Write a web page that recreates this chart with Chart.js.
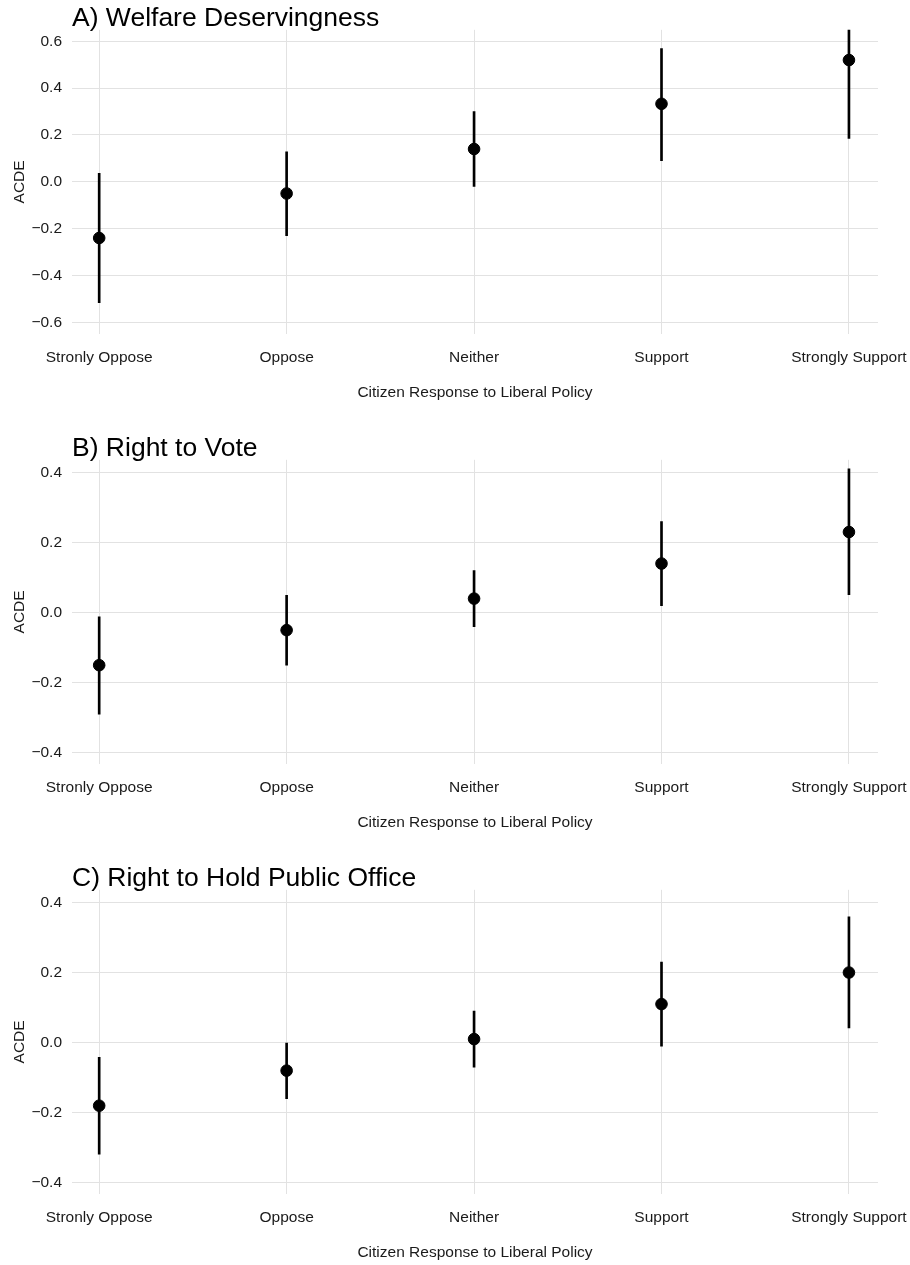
<!DOCTYPE html>
<html>
<head>
<meta charset="utf-8">
<script src="https://cdn.jsdelivr.net/npm/chart.js@4.4.1/dist/chart.umd.min.js"></script>
<style>
  html, body { margin: 0; padding: 0; background: #ffffff; overflow: hidden; }
  #wrap { position: relative; width: 910px; height: 1265px; overflow: hidden; }
  canvas { position: absolute; left: 0; }
</style>
</head>
<body>
<div id="wrap">
  <canvas id="cA" width="910" height="430" style="top:0px"></canvas>
  <canvas id="cB" width="910" height="430" style="top:430px"></canvas>
  <canvas id="cC" width="910" height="430" style="top:860px"></canvas>
</div>
<script>
// ---- data ----
const categories = ["Stronly Oppose", "Oppose", "Neither", "Support", "Strongly Support"];

const titleA = "A) Welfare Deservingness";
const estA  = [-0.24, -0.05, 0.14, 0.333, 0.52];
const lowA  = [-0.516, -0.23, -0.02, 0.09, 0.185];
const highA = [0.036, 0.128, 0.30, 0.569, 0.66];
const yTicksA = [-0.6, -0.4, -0.2, 0.0, 0.2, 0.4, 0.6];

const titleB = "B) Right to Vote";
const estB  = [-0.15, -0.05, 0.04, 0.14, 0.23];
const lowB  = [-0.29, -0.15, -0.04, 0.02, 0.051];
const highB = [-0.012, 0.049, 0.12, 0.26, 0.41];

const titleC = "C) Right to Hold Public Office";
const estC  = [-0.18, -0.08, 0.01, 0.11, 0.20];
const lowC  = [-0.318, -0.16, -0.07, -0.01, 0.042];
const highC = [-0.042, 0.0, 0.09, 0.23, 0.359];

const yTicksBC = [-0.4, -0.2, 0.0, 0.2, 0.4];

const xTitle = "Citizen Response to Liberal Policy";
const yTitle = "ACDE";

// ---- chart ----
const FONT = '"Liberation Sans", Arial, Helvetica, sans-serif';
const GRID = '#e2e2e2';
const TXT = '#1a1a1a';

function fmt(v) {
  const s = Math.abs(v).toFixed(1);
  return v < -1e-9 ? '\u2212' + s : s;
}

function makeChart(id, title, est, low, high, yTicks, yMin, yMax) {
  const bars = categories.map((c, i) => ({ x: i, y: [low[i], high[i]] }));
  const pts = categories.map((c, i) => ({ x: i, y: est[i] }));
  new Chart(document.getElementById(id), {
    type: 'bar',
    data: {
      datasets: [
        {
          type: 'bar',
          data: bars,
          backgroundColor: '#000000',
          borderWidth: 0,
          barThickness: 2,
          order: 1
        },
        {
          type: 'scatter',
          data: pts,
          backgroundColor: '#000000',
          borderColor: '#000000',
          pointRadius: 5.8,
          pointHoverRadius: 5.8,
          order: 0
        }
      ]
    },
    options: {
      responsive: false,
      animation: false,
      devicePixelRatio: 1,
      layout: { padding: { left: 0, right: 32, top: 0, bottom: 0 } },
      plugins: {
        legend: { display: false },
        tooltip: { enabled: false },
        title: {
          display: true,
          text: title,
          align: 'start',
          fullSize: false,
          color: '#000000',
          font: { family: FONT, size: 26.5, weight: 'normal', lineHeight: 0.85 },
          padding: { top: 7.3, bottom: 0 }
        }
      },
      scales: {
        x: {
          type: 'linear',
          min: -0.145,
          max: 4.155,
          offset: false,
          border: { display: false },
          grid: { color: GRID, lineWidth: 1, drawTicks: false, offset: false },
          afterBuildTicks: (s) => { s.ticks = categories.map((c, i) => ({ value: i })); },
          afterFit: (s) => { s.height = 96; s.paddingLeft = 0; s.paddingRight = 0; },
          ticks: {
            autoSkip: false,
            maxRotation: 0,
            padding: 14.7,
            color: TXT,
            font: { family: FONT, size: 15.5 },
            callback: (v) => categories[v] !== undefined ? categories[v] : ''
          },
          title: {
            display: true,
            text: xTitle,
            color: TXT,
            font: { family: FONT, size: 15.5 },
            padding: { top: 16.4, bottom: 27.7 }
          }
        },
        y: {
          type: 'linear',
          min: yMin,
          max: yMax,
          border: { display: false },
          grid: { color: GRID, lineWidth: 1, drawTicks: false },
          afterBuildTicks: (s) => { s.ticks = yTicks.map(v => ({ value: v })); },
          afterFit: (s) => { s.width = 72; },
          ticks: {
            padding: 10,
            color: TXT,
            font: { family: FONT, size: 15.5 },
            callback: (v) => fmt(v)
          },
          title: {
            display: true,
            text: yTitle,
            color: TXT,
            font: { family: FONT, size: 15.5 },
            padding: { top: 10, bottom: 0 }
          }
        }
      }
    }
  });
}

makeChart('cA', titleA, estA, lowA, highA, yTicksA, -0.65, 0.649);
makeChart('cB', titleB, estB, lowB, highB, yTicksBC, -0.432, 0.436);
makeChart('cC', titleC, estC, lowC, highC, yTicksBC, -0.432, 0.436);
</script>
</body>
</html>
